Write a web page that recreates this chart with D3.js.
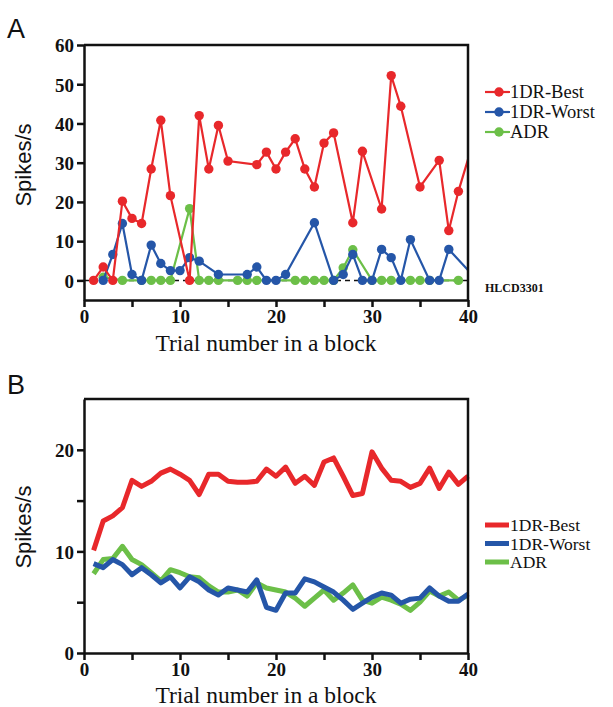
<!DOCTYPE html>
<html>
<head>
<meta charset="utf-8">
<script src="https://cdn.jsdelivr.net/npm/d3@7.9.0/dist/d3.min.js"></script>
<style>
  body { margin: 0; background: #fff; }
  svg { display: block; }
  .tick text { font-family: "Liberation Serif", serif; font-weight: bold; font-size: 19px; fill: #111; }
  .domain, .tick line { stroke: #111; stroke-width: 2.5px; }
</style>
</head>
<body>
<svg width="613" height="707"></svg>
<script>
// Panel A: single-trial firing rates (HLCD3301)
const bestTrialsA = [1,2,3,4,5,6,7,8,9,11,12,13,14,15,18,19,20,21,22,23,24,25,26,28,29,31,32,33,35,37,38,39,41];
const bestRatesA = [0,3.4,0,20.2,15.8,14.5,28.4,40.8,21.6,0,42,28.4,39.5,30.4,29.5,32.7,28.4,32.7,36.1,28.4,23.8,35,37.6,14.7,32.9,18.2,52.2,44.4,23.8,30.6,12.7,22.7,39];

const worstTrialsA = [2,3,4,5,6,7,8,9,10,11,12,14,17,18,19,20,21,24,26,27,28,29,30,31,32,33,34,36,37,38,41];
const worstRatesA = [0,6.6,14.5,1.5,0,9,4.3,2.5,2.5,5.8,4.9,1.5,1.5,3.4,0,0,1.5,14.7,0,1.5,6.6,0,0,7.9,5.8,0,10.4,0,0,7.9,0];

const adrTrialsA = [2,4,6,7,8,9,11,12,13,14,16,17,18,22,23,24,25,26,27,28,30,31,32,34,35,36,39];
const adrRatesA = [0.8,0,0,0,0,0,18.3,0,0,0,0,0,0,0,0,0,0,0,3.2,7.8,0,0,0,0,0,0,0];

// Panel B: averages across blocks, trials 1..40
const trialsB = d3.range(1, 41);
const bestB = [10.1,13.0,13.5,14.3,17.0,16.4,16.9,17.7,18.1,17.6,17.0,15.6,17.6,17.6,16.9,16.8,16.8,16.9,18.1,17.4,
               18.3,16.7,17.4,16.5,18.8,19.2,17.4,15.5,15.7,19.8,18.2,17.0,16.9,16.3,16.7,18.2,16.2,17.8,16.6,17.4];
const worstB = [8.8,8.4,9.2,8.7,7.7,8.4,7.7,6.9,7.5,6.4,7.5,7.0,6.2,5.7,6.4,6.2,6.0,7.2,4.5,4.2,
                5.9,5.9,7.3,7.0,6.5,6.0,5.2,4.3,4.9,5.5,5.9,5.7,4.9,5.3,5.4,6.4,5.6,5.1,5.1,5.8];
const adrB = [7.8,9.2,9.3,10.5,9.2,8.7,7.9,7.1,8.2,7.9,7.5,7.4,6.6,6.0,6.0,6.2,5.6,6.9,6.4,6.2,
              6.0,5.4,4.6,5.4,6.2,5.2,5.9,6.7,5.2,4.9,5.5,5.2,4.8,4.2,5.0,6.1,5.6,6.0,5.2,5.7];

const seriesNames = ["1DR-Best", "1DR-Worst", "ADR"];
const colors = ["#e8282b", "#2556a8", "#6cbf48"];

const xTicks = [0,5,10,15,20,25,30,35,40];
const yTicksA = [0,10,20,30,40,50,60];
const yTicksB = [0,5,10,15,20];

const svg = d3.select("svg");
const left = 84, right = 468;

function zip(xs, ys) { return xs.map((x, i) => ({ x: x, y: ys[i] })); }

function drawFrame(g, x, y, yTicks, yLabelEvery) {
  const [x0, x1] = x.range();
  const [yb, yt] = y.range();
  g.append("g")
    .attr("transform", `translate(0,${yb})`)
    .call(d3.axisBottom(x).tickValues(xTicks).tickSize(7).tickSizeOuter(0)
      .tickFormat(d => d % 10 === 0 ? d : ""))
    .call(a => a.selectAll("text").attr("dy", "0.68em"));
  g.append("g")
    .attr("transform", `translate(${x0},0)`)
    .call(d3.axisLeft(y).tickValues(yTicks).tickSize(7).tickSizeOuter(0)
      .tickFormat(d => d % yLabelEvery === 0 ? d : ""))
    .call(a => a.selectAll("text").attr("dy", "0.36em"));
  g.append("path")
    .attr("d", `M${x0},${yt}H${x1}V${yb}`)
    .attr("fill", "none").attr("stroke", "#111").attr("stroke-width", 2.5);
}

function axisTitles(g, x, y, cy, gap) {
  const [yb] = y.range();
  g.append("text")
    .attr("x", (left + right) / 2 - 10).attr("y", yb + gap)
    .attr("text-anchor", "middle")
    .attr("font-family", "Liberation Serif, serif").attr("font-size", 23.5)
    .attr("fill", "#111")
    .text("Trial number in a block");
  g.append("text")
    .attr("transform", `translate(31,${cy}) rotate(-90)`)
    .attr("text-anchor", "middle")
    .attr("font-family", "Liberation Sans, Arial, sans-serif").attr("font-size", 22)
    .attr("fill", "#111")
    .text("Spikes/s");
}

// ---------- Panel A ----------
const xA = d3.scaleLinear().domain([0, 40]).range([left, right]);
const yA = d3.scaleLinear().domain([-5, 60]).range([300, 45]);
const gA = svg.append("g");

svg.append("defs").append("clipPath").attr("id", "clipA")
  .append("rect").attr("x", left).attr("y", 45).attr("width", right - left).attr("height", 255);

gA.append("text").attr("x", 7).attr("y", 38)
  .attr("font-family", "Liberation Sans, Arial, sans-serif").attr("font-size", 27)
  .attr("fill", "#111").text("A");

const plotA = gA.append("g").attr("clip-path", "url(#clipA)");

plotA.append("line")
  .attr("x1", left).attr("x2", right)
  .attr("y1", yA(0)).attr("y2", yA(0))
  .attr("stroke", "#111").attr("stroke-width", 1.5).attr("stroke-dasharray", "5,4");

const seriesA = [
  zip(adrTrialsA, adrRatesA),
  zip(worstTrialsA, worstRatesA),
  zip(bestTrialsA, bestRatesA)
];
const colorA = [colors[2], colors[1], colors[0]];
const lineA = d3.line().x(d => xA(d.x)).y(d => yA(d.y));

seriesA.forEach((pts, i) => {
  plotA.append("path").datum(pts)
    .attr("d", lineA).attr("fill", "none")
    .attr("stroke", colorA[i]).attr("stroke-width", 2.2);
  plotA.selectAll(null).data(pts).enter().append("circle")
    .attr("cx", d => xA(d.x)).attr("cy", d => yA(d.y))
    .attr("r", 4.7).attr("fill", colorA[i]);
});

drawFrame(gA, xA, yA, yTicksA, 10);
axisTitles(gA, xA, yA, 165, 51);

gA.append("text").attr("x", 485).attr("y", 292)
  .attr("font-family", "Liberation Serif, serif").attr("font-size", 12)
  .attr("font-weight", "bold").attr("fill", "#111").text("HLCD3301");

const legA = gA.append("g");
seriesNames.forEach((name, i) => {
  const ly = 92 + i * 20;
  legA.append("line").attr("x1", 485).attr("x2", 510).attr("y1", ly).attr("y2", ly)
    .attr("stroke", colors[i]).attr("stroke-width", 2.2);
  legA.append("circle").attr("cx", 499).attr("cy", ly).attr("r", 4.7).attr("fill", colors[i]);
  legA.append("text").attr("x", 510).attr("y", ly).attr("dy", "0.35em")
    .attr("font-family", "Liberation Serif, serif").attr("font-size", 18.5)
    .attr("fill", "#111").text(name);
});

// ---------- Panel B ----------
const xB = d3.scaleLinear().domain([0, 40]).range([left, right]);
const yB = d3.scaleLinear().domain([0, 25]).range([653, 399]);
const gB = svg.append("g");

gB.append("text").attr("x", 7).attr("y", 394)
  .attr("font-family", "Liberation Sans, Arial, sans-serif").attr("font-size", 27)
  .attr("fill", "#111").text("B");

const lineB = d3.line().x(d => xB(d.x)).y(d => yB(d.y));
[[adrB, colors[2]], [worstB, colors[1]], [bestB, colors[0]]].forEach(([vals, c]) => {
  gB.append("path").datum(zip(trialsB, vals))
    .attr("d", lineB).attr("fill", "none")
    .attr("stroke", c).attr("stroke-width", 5).attr("stroke-linejoin", "round");
});

drawFrame(gB, xB, yB, yTicksB, 10);
axisTitles(gB, xB, yB, 527, 50);

const legB = gB.append("g");
seriesNames.forEach((name, i) => {
  const ly = 525 + i * 18.5;
  legB.append("line").attr("x1", 485).attr("x2", 509).attr("y1", ly).attr("y2", ly)
    .attr("stroke", colors[i]).attr("stroke-width", 5);
  legB.append("text").attr("x", 510).attr("y", ly).attr("dy", "0.35em")
    .attr("font-family", "Liberation Serif, serif").attr("font-size", 17.5)
    .attr("fill", "#111").text(name);
});
</script>
</body>
</html>
